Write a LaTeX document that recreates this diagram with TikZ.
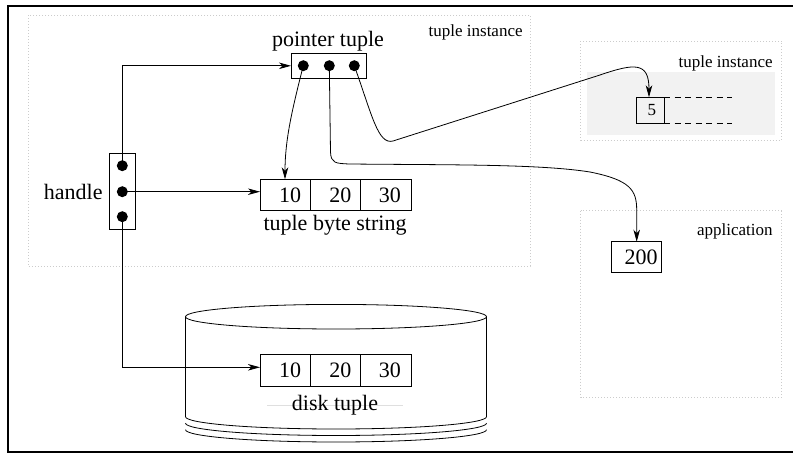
\documentclass[tikz,border=0pt]{standalone}
\usepackage{fontspec}
\setmainfont{Liberation Serif}
\usetikzlibrary{arrows.meta}
\begin{document}
\begin{tikzpicture}[x=1pt,y=-1pt,line width=0.8pt,
  arr/.style={-{Stealth[length=12pt,width=6.5pt,inset=3.5pt]}},
  bigfont/.style={font=\fontsize{22}{26}\selectfont},
  smallfont/.style={font=\fontsize{17}{20}\selectfont},
  cellbox/.style={draw, rectangle, inner sep=0pt, outer sep=0pt, anchor=north west,
    minimum width=50.3pt, minimum height=31pt, bigfont},
  dotn/.style={circle, fill, inner sep=0pt, minimum size=11pt},
  region/.style={draw=gray!40, line width=0.6pt, dash pattern=on 0.6pt off 2.4pt},
  lbl/.style={inner sep=0pt}
]
\useasboundingbox (0,0) rectangle (793,455);
\clip (0,0) rectangle (793,455);

% dotted regions
\draw[region] (28,15) rectangle (530,266);
\fill[gray!10] (586.7,71.7) rectangle (775,135);
\draw[region] (580.7,41) rectangle (781.5,140);
\draw[region] (580.7,210.7) rectangle (781.5,397);

% outer frame (right side lies outside the visible area)
\draw[line width=2pt] (900,5.7) -- (7.7,5.7) -- (7.7,452) -- (900,452);

% region labels
\node[lbl, smallfont, anchor=base east] (tiA) at (523,36.5) {tuple instance};
\node[lbl, smallfont, anchor=base east] (tiB) at (773,67) {tuple instance};
\node[lbl, smallfont, anchor=base east] (app) at (773,235) {application};

% pointer tuple
\node[draw, rectangle, inner sep=0pt, outer sep=0pt, anchor=north west,
  minimum width=75.7pt, minimum height=25pt] (ptr) at (291,53.3) {};
\node[lbl, bigfont, anchor=base] (ptrl) at (328,46) {pointer tuple};

% handle
\node[draw, rectangle, inner sep=0pt, outer sep=0pt, anchor=north west,
  minimum width=25.7pt, minimum height=76pt] (hdl) at (109.3,153.3) {};
\node[lbl, bigfont, anchor=base east] (hdll) at (103,199) {handle};

% tuple byte string
\node[cellbox] (b1) at (260,179.3) {\hspace{10pt}10};
\node[cellbox] (b2) at (310.3,179.3) {\hspace{10pt}20};
\node[cellbox] (b3) at (360.6,179.3) {\hspace{8pt}30};
\node[lbl, bigfont, anchor=base] (bsl) at (335,230) {tuple byte string};

% disk cylinder
\draw (336,316.7) ellipse [x radius=150.5, y radius=12.3];
\draw (185.5,316.7) -- (185.5,416.7) arc[start angle=180, end angle=0, x radius=150.5, y radius=12.3] -- (486.5,316.7);
\draw (185.5,423.2) arc[start angle=180, end angle=0, x radius=150.5, y radius=12.3];
\draw (185.5,429.7) arc[start angle=180, end angle=0, x radius=150.5, y radius=12.3];
\draw[gray!25, line width=0.6pt] (267,405) -- (403,405);

% disk tuple
\node[cellbox, minimum height=32.4pt] (d1) at (260,354.3) {\hspace{10pt}10};
\node[cellbox, minimum height=32.4pt] (d2) at (310.3,354.3) {\hspace{10pt}20};
\node[cellbox, minimum height=32.4pt] (d3) at (360.6,354.3) {\hspace{8pt}30};
\node[lbl, bigfont, anchor=base] (dtl) at (335,410) {disk tuple};

% tuple instance value
\node[draw, rectangle, inner sep=0pt, outer sep=0pt, anchor=north west,
  minimum width=27.3pt, minimum height=26pt, smallfont] (v5) at (636.7,97.3) {\hspace{3pt}5};
\draw[dash pattern=on 6pt off 4.5pt] (v5.north east) -- (731.7,97.3);
\draw[dash pattern=on 6pt off 4.5pt] (v5.south east) -- (731.7,123.3);

% application value
\node[draw, rectangle, inner sep=0pt, outer sep=0pt, anchor=north west,
  minimum width=50pt, minimum height=30.6pt, bigfont] (v200) at (611.7,241.7) {\hspace{8.6pt}200};

% connector end points
\coordinate (bIn) at (260,191.7);
\coordinate (dIn) at (260,367.3);
\coordinate (bTop) at (285,179.3);
\coordinate (v5Top) at (649,97.3);
\coordinate (v200Top) at (636.7,241.7);

% handle dots
\node[dotn] (h1) at (122.3,165.7) {};
\node[dotn] (h2) at (122.3,191.7) {};
\node[dotn] (h3) at (122.3,216.7) {};

% pointer dots
\node[dotn] (p1) at (303.3,65.7) {};
\node[dotn] (p2) at (329.3,65.7) {};
\node[dotn] (p3) at (354.3,65.7) {};

% connectors from handle
\draw[arr] (h1.center) |- (ptr.west);
\draw[arr] (h2.center) -- (bIn);
\draw[arr] (h3.center) |- (dIn);

% connectors from pointer tuple
\draw[arr] (p1.center) .. controls (292,110) and (285,140) .. (bTop);
\draw[arr] (p2.center) -- (330.5,152) .. controls (331,163) and (335,163.5) .. (350,164)
  .. controls (450,165) and (540,164) .. (590,172)
  .. controls (630,180) and (636.7,190) .. (636.7,210) -- (v200Top);
\draw[arr] (p3.center) .. controls (372,115) and (378,145) .. (393,141)
  -- (600,75) .. controls (635,63) and (649,62) .. (v5Top);
\end{tikzpicture}
\end{document}
